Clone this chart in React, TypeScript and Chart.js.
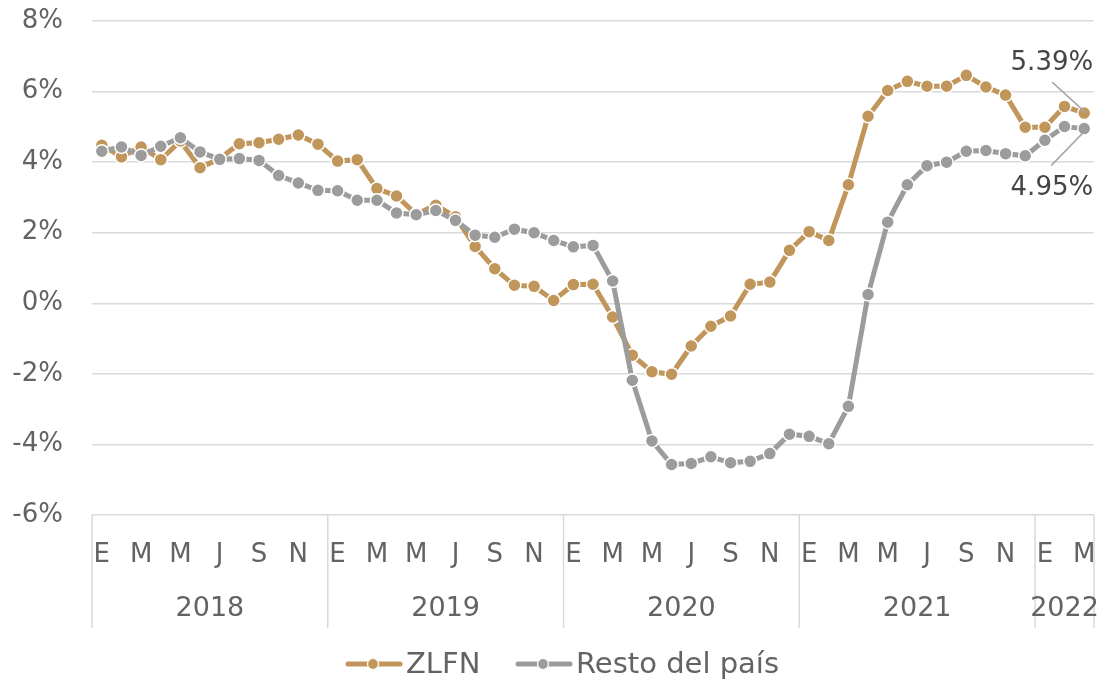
import React, { useEffect, useRef } from "react";
import { Chart, registerables } from "chart.js";

Chart.register(...registerables);

const years = ["2018", "2019", "2020", "2021", "2022"];
const monthLetters = ["E", "F", "M", "A", "M", "J", "J", "A", "S", "O", "N", "D"];
const shownMonths = [0, 2, 4, 6, 8, 10];

const zlfn = [
  4.48, 4.15, 4.43, 4.07, 4.6, 3.84, 4.1, 4.52, 4.55, 4.65, 4.77, 4.51,
  4.03, 4.07, 3.25, 3.04, 2.52, 2.78, 2.45, 1.61, 0.98, 0.51, 0.48, 0.08,
  0.53, 0.54, -0.39, -1.47, -1.94, -2.01, -1.21, -0.65, -0.36, 0.54, 0.6, 1.5,
  2.03, 1.78, 3.36, 5.3, 6.03, 6.29, 6.15, 6.15, 6.46, 6.13, 5.9, 4.99,
  4.99, 5.58, 5.39,
];
const resto = [
  4.31, 4.43, 4.19, 4.45, 4.69, 4.29, 4.08, 4.1, 4.05, 3.62, 3.41, 3.2,
  3.19, 2.92, 2.92, 2.56, 2.51, 2.63, 2.35, 1.93, 1.87, 2.1, 2.0, 1.78,
  1.6, 1.64, 0.63, -2.18, -3.9, -4.57, -4.54, -4.35, -4.52, -4.48, -4.26, -3.71,
  -3.77, -3.98, -2.92, 0.25, 2.3, 3.36, 3.9, 4.0, 4.31, 4.33, 4.24, 4.18,
  4.62, 5.01, 4.95,
];

const labels: string[] = zlfn.map((_, i) => `${years[Math.floor(i / 12)]}-${i % 12}`);

const GOLD = "#C0965B";
const GRAY = "#9C9C9C";
const TEXT = "#636363";
const GRID = "#D9D9D9";
const FONT = "'DejaVu Sans', sans-serif";
const WEIGHT = "normal";

const customPlugin = {
  id: "customAxis",
  afterDraw(chart: any) {
    const ctx = chart.ctx;
    const x = chart.scales.x;
    const y = chart.scales.y;
    const area = chart.chartArea;
    const n = labels.length;
    const step = x.getPixelForValue(1) - x.getPixelForValue(0);
    ctx.save();
    ctx.strokeStyle = GRID;
    ctx.lineWidth = 1.5;
    const bounds: number[] = [];
    for (let yi = 0; yi < years.length; yi++) {
      bounds.push(x.getPixelForValue(yi * 12) - step / 2);
    }
    bounds.push(x.getPixelForValue(n - 1) + step / 2);
    bounds.forEach((bx) => {
      ctx.beginPath();
      ctx.moveTo(bx, area.bottom);
      ctx.lineTo(bx, area.bottom + 113);
      ctx.stroke();
    });
    ctx.fillStyle = TEXT;
    ctx.font = `${WEIGHT} 26px ${FONT}`;
    ctx.textAlign = "center";
    ctx.textBaseline = "middle";
    for (let i = 0; i < n; i++) {
      if (shownMonths.includes(i % 12)) {
        ctx.fillText(monthLetters[i % 12], x.getPixelForValue(i), area.bottom + 40);
      }
    }
    ctx.font = `${WEIGHT} 27px ${FONT}`;
    for (let yi = 0; yi < years.length; yi++) {
      const cx = (bounds[yi] + bounds[yi + 1]) / 2;
      ctx.fillText(years[yi], cx, area.bottom + 94);
    }
    const lastI = n - 1;
    const px = x.getPixelForValue(lastI);
    const pyG = y.getPixelForValue(zlfn[lastI]);
    const pyR = y.getPixelForValue(resto[lastI]);
    ctx.strokeStyle = "#A6A6A6";
    ctx.lineWidth = 1.5;
    ctx.beginPath();
    ctx.moveTo(px - 32, pyG - 31);
    ctx.lineTo(px + 2, pyG);
    ctx.moveTo(px - 33, pyR + 37);
    ctx.lineTo(px - 1, pyR + 4);
    ctx.stroke();
    ctx.fillStyle = "#454545";
    ctx.font = `${WEIGHT} 26px ${FONT}`;
    ctx.textAlign = "right";
    ctx.fillText(zlfn[lastI].toFixed(2) + "%", px + 9, pyG - 50);
    ctx.fillText(resto[lastI].toFixed(2) + "%", px + 9, pyR + 60);
    const ly = 664;
    const items = [
      { label: "ZLFN", color: GOLD, x0: 348 },
      { label: "Resto del país", color: GRAY, x0: 518 },
    ];
    items.forEach((it) => {
      ctx.strokeStyle = it.color;
      ctx.lineWidth = 5;
      ctx.lineCap = "round";
      ctx.beginPath();
      ctx.moveTo(it.x0, ly);
      ctx.lineTo(it.x0 + 52, ly);
      ctx.stroke();
      ctx.lineCap = "butt";
      ctx.fillStyle = it.color;
      ctx.beginPath();
      ctx.arc(it.x0 + 25, ly, 5.5, 0, Math.PI * 2);
      ctx.fill();
      ctx.strokeStyle = "#ffffff";
      ctx.lineWidth = 1.2;
      ctx.stroke();
      ctx.fillStyle = TEXT;
      ctx.font = `${WEIGHT} 29px ${FONT}`;
      ctx.textAlign = "left";
      ctx.fillText(it.label, it.x0 + 58, ly + 1);
    });
    ctx.restore();
  },
};

export default function App() {
  const canvasRef = useRef<HTMLCanvasElement | null>(null);
  useEffect(() => {
    document.body.style.margin = "0";
    const chart = new Chart(canvasRef.current as HTMLCanvasElement, {
      type: "line",
      data: {
        labels,
        datasets: [
          {
            label: "ZLFN",
            data: zlfn,
            borderColor: GOLD,
            backgroundColor: GOLD,
            borderWidth: 5,
            pointRadius: 6.5,
            pointBorderColor: "#ffffff",
            pointBorderWidth: 1.5,
            pointBackgroundColor: GOLD,
            tension: 0,
            order: 1,
          },
          {
            label: "Resto del país",
            data: resto,
            borderColor: GRAY,
            backgroundColor: GRAY,
            borderWidth: 5,
            pointRadius: 6.5,
            pointBorderColor: "#ffffff",
            pointBorderWidth: 1.5,
            pointBackgroundColor: GRAY,
            tension: 0,
            order: 0,
          },
        ],
      },
      options: {
        animation: false,
        responsive: true,
        maintainAspectRatio: false,
        layout: { autoPadding: false, padding: { top: 21, right: 5, bottom: 169, left: 0 } },
        plugins: {
          legend: { display: false },
          tooltip: { enabled: false },
        },
        scales: {
          x: {
            type: "category",
            display: false,
            offset: true,
          },
          y: {
            min: -6,
            max: 8,
            ticks: {
              stepSize: 2,
              padding: 0,
              color: TEXT,
              font: { family: FONT, size: 26, weight: WEIGHT as any },
              callback: (v: any) => `${v}%`,
            },
            grid: {
              color: GRID,
              lineWidth: 1.5,
              drawTicks: true,
              tickLength: 29,
              tickColor: "rgba(0,0,0,0)",
            },
            border: { display: false },
            afterFit: (scale: any) => {
              scale.width = 92;
            },
          },
        },
      },
      plugins: [customPlugin],
    });
    return () => chart.destroy();
  }, []);
  return (
    <div style={{ position: "absolute", left: 0, top: 0, width: 1099, height: 684 }}>
      <canvas ref={canvasRef} />
    </div>
  );
}
